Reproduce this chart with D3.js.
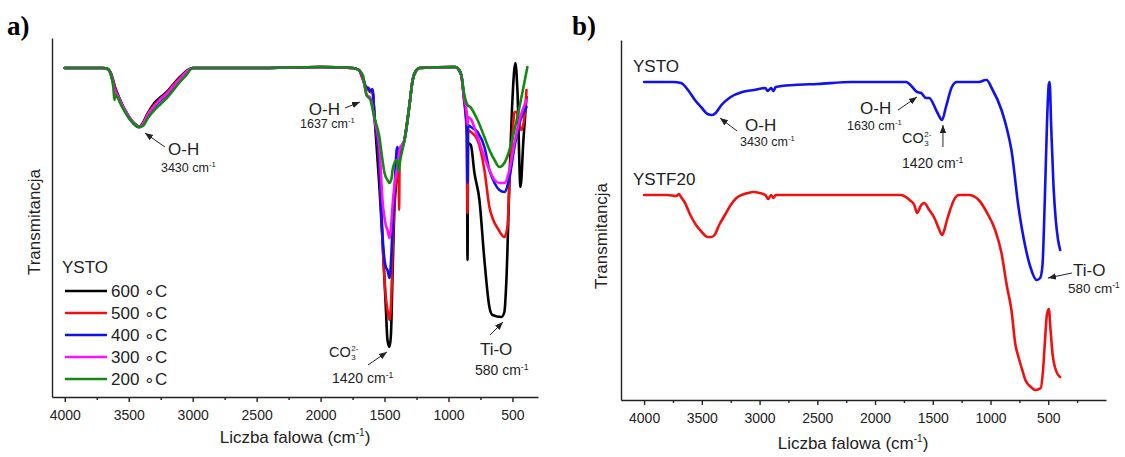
<!DOCTYPE html>
<html lang="pl">
<head>
<meta charset="UTF-8">
<title>FTIR YSTO / YSTF20</title>
<script src="https://cdn.jsdelivr.net/npm/d3@7"></script>
<style>
  body { margin: 0; background: #fff; }
  svg { display: block; font-family: "Liberation Sans", Arial, sans-serif; }
  .axis path, .axis line { stroke: #222; stroke-width: 1.4; }
  .axis text { font-size: 14px; fill: #222; font-family: "Liberation Sans", Arial, sans-serif; }
  .curve { fill: none; stroke-width: 2.6; stroke-linejoin: round; stroke-linecap: round; }
  .big { font-size: 17px; fill: #222; }
  .small { fill: #222; }
  .arrow { stroke: #222; stroke-width: 1; }
  .panel { font-family: "Liberation Serif", "Times New Roman", serif; font-weight: bold; font-size: 27px; }
</style>
</head>
<body>
<svg id="fig" width="1125" height="457"></svg>
<script>
// ---- data: wavenumber (cm-1), transmittance (a.u.) ----
const majorTicks = [4000, 3500, 3000, 2500, 2000, 1500, 1000, 500]
const minorTicksA = [3750, 3250, 2750, 2250, 1750, 1250, 750]
const minorTicksB = [3750, 3250, 2750, 2250, 1750, 1250, 750, 250]

const tempLabels = ['600', '500', '400', '300', '200']
const tempColors = ['#000000', '#f01010', '#1010f0', '#ff10ff', '#128a12']

const spec600 = [[4000,329],[3700,329],[3665,328],[3640,324],[3620,316],[3605,309],[3590,304],[3560,295],[3520,285],[3480,277],[3440,272],[3415,270],[3390,274],[3350,284],[3300,294],[3250,300],[3203,305],[3150,313],[3100,320],[3050,326],[3000,329],[2500,329],[2000,330],[1750,329],[1700,327],[1670,318],[1645,309],[1625,307],[1610,305],[1595,307],[1578,280],[1540,210],[1516,157],[1490,90],[1477,57],[1461,50],[1450,62],[1437,124],[1422,190],[1398,224],[1383,240],[1344,257],[1305,292],[1280,317],[1250,327],[1227,329],[950,330],[930,329],[900,322],[880,300],[856,262],[851,137],[847,254],[825,252],[797,224],[758,197],[719,137],[680,90],[656,82],[586,80],[563,85],[547,117],[523,217],[500,297],[477,334],[461,307],[437,210],[414,257],[390,300]]
const spec500 = [[4000,329],[3700,329],[3665,328],[3640,324],[3620,315],[3605,308],[3590,303],[3560,294],[3520,284],[3480,276],[3440,271],[3415,270],[3390,273],[3350,283],[3300,292],[3250,298],[3203,304],[3150,312],[3100,319],[3050,325],[3000,329],[2500,329],[2000,330],[1750,329],[1700,327],[1670,318],[1645,310],[1625,307],[1610,305],[1595,307],[1578,280],[1540,230],[1516,157],[1490,100],[1477,87],[1461,77],[1445,107],[1437,147],[1422,197],[1398,229],[1390,237],[1386,187],[1382,237],[1344,257],[1305,292],[1280,317],[1250,327],[1227,329],[950,330],[930,329],[900,322],[880,300],[856,268],[851,184],[847,267],[825,265],[773,257],[719,227],[680,190],[650,177],[612,168],[563,160],[539,170],[523,215],[500,260],[484,285],[469,285],[445,273],[430,267],[406,280],[390,307]]
const spec400 = [[4000,329],[3700,329],[3665,328],[3640,323],[3620,313],[3605,306],[3590,302],[3560,294],[3520,284],[3480,276],[3440,271],[3415,270],[3390,272],[3350,281],[3300,290],[3250,297],[3203,302],[3150,310],[3100,318],[3050,324],[3000,329],[2500,329],[2000,330],[1750,329],[1700,327],[1670,320],[1645,310],[1625,309],[1610,306],[1595,308],[1578,280],[1540,235],[1516,162],[1490,130],[1477,127],[1461,119],[1445,147],[1437,172],[1422,207],[1405,247],[1398,250],[1390,237],[1383,247],[1344,257],[1305,292],[1280,317],[1250,327],[1227,329],[950,330],[930,329],[900,322],[880,302],[856,272],[851,214],[847,272],[825,270],[773,265],[719,250],[680,227],[640,214],[602,207],[563,205],[523,220],[484,250],[445,274],[390,290]]
const spec300 = [[4000,329],[3700,329],[3665,328],[3640,323],[3620,313],[3605,305],[3590,302],[3560,294],[3520,285],[3480,277],[3440,272],[3415,270],[3390,273],[3350,282],[3300,291],[3250,298],[3203,303],[3150,311],[3100,318],[3050,325],[3000,329],[2500,329],[2000,330],[1750,329],[1700,327],[1670,320],[1640,302],[1610,299],[1578,277],[1540,250],[1516,197],[1490,172],[1477,167],[1461,159],[1445,177],[1437,192],[1422,212],[1398,232],[1383,247],[1344,257],[1305,292],[1280,317],[1250,327],[1227,329],[950,330],[930,329],[900,322],[880,302],[856,282],[851,272],[847,280],[825,278],[773,260],[719,240],[680,227],[640,217],[602,214],[563,214],[523,227],[484,254],[445,277],[390,297]]
const spec200 = [[4000,329],[3700,329],[3665,328],[3640,322],[3620,309],[3612,297],[3605,302],[3590,300],[3560,292],[3520,283],[3480,276],[3440,271],[3415,270],[3390,271],[3350,279],[3300,287],[3250,293],[3203,299],[3150,307],[3100,315],[3050,322],[3000,329],[2500,329],[2000,330],[1750,329],[1700,327],[1670,322],[1640,302],[1610,297],[1578,279],[1540,260],[1516,237],[1500,224],[1477,217],[1461,214],[1445,219],[1437,227],[1422,234],[1400,237],[1390,225],[1383,232],[1344,257],[1305,292],[1280,317],[1250,327],[1227,329],[950,330],[930,329],[900,322],[880,305],[851,292],[830,290],[773,277],[719,260],[680,247],[640,237],[602,230],[563,234],[523,247],[484,267],[445,290],[383,330]]
const spectraA = [spec600, spec500, spec400, spec300, spec200]

const specYSTO = [[4000,318],[3750,318],[3680,317],[3620,310],[3560,300],[3500,292],[3450,286],[3410,285],[3380,287],[3330,295],[3250,303],[3150,308],[3050,310],[2950,312],[2930,309],[2900,312],[2880,309],[2860,313],[2700,315],[2500,316],[2200,318],[2000,318],[1730,318],[1678,313],[1636,308],[1601,307],[1558,302],[1532,302],[1463,288],[1420,280],[1386,293],[1335,313],[1292,318],[1200,318],[1100,318],[1042,320],[1034,320],[990,312],[905,290],[860,272],[819,250],[758,193],[698,153],[655,133],[600,120],[570,122],[550,135],[530,200],[510,280],[495,316],[488,318],[475,275],[455,215],[435,180],[415,160],[397,150]]
const specYSTF20 = [[4000,205],[3800,205],[3720,204],[3700,206],[3680,203],[3650,198],[3600,185],[3550,175],[3500,168],[3450,163],[3420,163],[3390,165],[3350,175],[3300,185],[3250,195],[3200,202],[3100,207],[3050,208],[3000,207],[2950,205],[2925,201],[2900,205],[2880,202],[2860,205],[2700,205],[2500,205],[2000,205],[1780,205],[1700,200],[1660,195],[1636,187],[1600,195],[1575,197],[1530,190],[1490,183],[1450,172],[1420,165],[1400,170],[1377,180],[1350,190],[1317,200],[1275,205],[1188,205],[1102,200],[1034,188],[960,170],[905,147],[860,115],[819,90],[784,55],[758,43],[720,28],[698,20],[650,13],[612,10],[565,12],[545,30],[528,60],[512,85],[495,91],[480,70],[462,45],[440,32],[420,26],[397,23]]

// annotations: head text, label pos (w,T), wavenumber text pos, arrow from -> to
const notesA = [
  {head: 'O-H', at: [3193, 242], sub: '3430', subAt: [3248, 225], subSize: 12.5, from: [3217, 250], to: [3373, 264]},
  {head: 'O-H', at: [1848, 282], anchor: 'end', sub: '1637', subAt: [2161, 269], subSize: 12.5, from: [1809, 289], to: [1692, 295]},
  {head: 'CO3', at: [1934, 40], sub: '1420', subAt: [1911, 14], subSize: 14, from: [1629, 32], to: [1481, 45]},
  {head: 'Ti-O', at: [754, 42], sub: '580', subAt: [793, 22], subSize: 14, from: [675, 62], to: [574, 75]}
]
const notesB = [
  {head: 'O-H', at: [3126, 269], sub: '3430', subAt: [3170, 254], subSize: 12.5, from: [3195, 269], to: [3343, 282]},
  {head: 'O-H', at: [2130, 286], sub: '1630', subAt: [2243, 270], subSize: 12.5, from: [1801, 290], to: [1637, 303]},
  {head: 'CO3', at: [1767, 257], sub: '1420', subAt: [1767, 232], subSize: 14, from: [1412, 253], to: [1412, 275]},
  {head: 'Ti-O', at: [286, 124], sub: '580', subAt: [329, 107], subSize: 13.5, from: [295, 127], to: [502, 122]}
]

const svg = d3.select('#fig')
svg.append('rect').attr('width', 1125).attr('height', 457).attr('fill', '#fff')

svg.append('defs').append('marker')
  .attr('id', 'head')
  .attr('viewBox', '0 -4 8 8')
  .attr('refX', 8).attr('refY', 0)
  .attr('markerWidth', 8).attr('markerHeight', 8)
  .attr('markerUnits', 'userSpaceOnUse')
  .attr('orient', 'auto')
  .append('path').attr('d', 'M0,-3.2L8,0L0,3.2Z').attr('fill', '#222')

// scales
const xA = d3.scaleLinear().domain([4100, 300]).range([52, 538])
const yA = d3.scaleLinear().domain([0, 359]).range([397, 38])
const xB = d3.scaleLinear().domain([4200, 0]).range([621, 1106])
const yB = d3.scaleLinear().domain([0, 360]).range([400, 40])

function axes(x, y, y0, minor, titleX, titleY) {
  let g = svg.append('g').attr('class', 'axis').attr('transform', `translate(0,${y0})`)
  g.call(d3.axisBottom(x).tickValues(majorTicks).tickSize(5).tickPadding(8).tickSizeOuter(0).tickFormat(d3.format('d')))
  let gm = svg.append('g').attr('class', 'axis').attr('transform', `translate(0,${y0})`)
  gm.call(d3.axisBottom(x).tickValues(minor).tickSize(3).tickFormat(''))
  gm.select('.domain').remove()
  svg.append('g').attr('class', 'axis')
    .attr('transform', `translate(${x.range()[0]},0)`)
    .call(d3.axisLeft(y).tickValues([]).tickSizeOuter(0))

  let t = svg.append('text').attr('class', 'big')
    .attr('x', titleX).attr('y', titleY).attr('text-anchor', 'middle')
    .text('Liczba falowa (cm')
  t.append('tspan').attr('dy', -7).attr('font-size', 10).text('-1')
  t.append('tspan').attr('dy', 7).text(')')
}

function ylabel(x, y) {
  svg.append('text').attr('class', 'big')
    .attr('transform', `translate(${x},${y}) rotate(-90)`)
    .attr('text-anchor', 'middle')
    .text('Transmitancja')
}

function curve(x, y, data, color) {
  let line = d3.line().x(d => x(d[0])).y(d => y(d[1])).curve(d3.curveMonotoneX)
  svg.append('path').attr('class', 'curve').attr('d', line(data)).attr('stroke', color)
}

function notes(x, y, list) {
  list.forEach(n => {
    if (n.head === 'CO3') {
      let t = svg.append('text').attr('x', x(n.at[0])).attr('y', y(n.at[1]))
        .attr('font-size', 14.5).attr('fill', '#222').text('CO')
      let w = t.node().getComputedTextLength()
      let x0 = x(n.at[0]) + w + 0.5
      svg.append('text').attr('x', x0).attr('y', y(n.at[1]) + 3).attr('font-size', 8).attr('fill', '#222').text('3')
      svg.append('text').attr('x', x0).attr('y', y(n.at[1]) - 6).attr('font-size', 8).attr('fill', '#222').text('2-')
    } else {
      svg.append('text').attr('class', 'big')
        .attr('x', x(n.at[0])).attr('y', y(n.at[1]))
        .attr('text-anchor', n.anchor || 'start')
        .text(n.head)
    }
    let s = svg.append('text').attr('class', 'small').attr('font-size', n.subSize)
      .attr('x', x(n.subAt[0])).attr('y', y(n.subAt[1]))
      .text(n.sub + ' cm')
    s.append('tspan').attr('dy', -5).attr('font-size', n.subSize * 0.62).text('-1')

    svg.append('line').attr('class', 'arrow')
      .attr('x1', x(n.from[0])).attr('y1', y(n.from[1]))
      .attr('x2', x(n.to[0])).attr('y2', y(n.to[1]))
      .attr('marker-end', 'url(#head)')
  })
}

// ---- panel a ----
axes(xA, yA, 397, minorTicksA, 295, 443)
ylabel(40, 222)
spectraA.forEach((d, i) => curve(xA, yA, d, tempColors[i]))
notes(xA, yA, notesA)

// legend
svg.append('text').attr('class', 'big').attr('x', 62).attr('y', 273).text('YSTO')
tempLabels.forEach((lab, i) => {
  let yy = 291 + i * 22
  svg.append('line').attr('x1', 65).attr('x2', 107).attr('y1', yy).attr('y2', yy)
    .attr('stroke', tempColors[i]).attr('stroke-width', 2.6)
  svg.append('text').attr('class', 'big').attr('x', 111).attr('y', yy + 6)
    .text(lab + ' \u2218C')
})

svg.append('text').attr('class', 'panel').attr('x', 7).attr('y', 35).text('a)')

// ---- panel b ----
axes(xB, yB, 400, minorTicksB, 853, 449)
ylabel(607, 236)
curve(xB, yB, specYSTO, '#1010f0')
curve(xB, yB, specYSTF20, '#f01010')
notes(xB, yB, notesB)
svg.append('text').attr('class', 'big').attr('font-size', 18).attr('x', xB(4096)).attr('y', yB(328)).text('YSTO')
svg.append('text').attr('class', 'big').attr('font-size', 18).attr('x', xB(4096)).attr('y', yB(215)).text('YSTF20')

svg.append('text').attr('class', 'panel').attr('x', 572).attr('y', 35).text('b)')
</script>
</body>
</html>
